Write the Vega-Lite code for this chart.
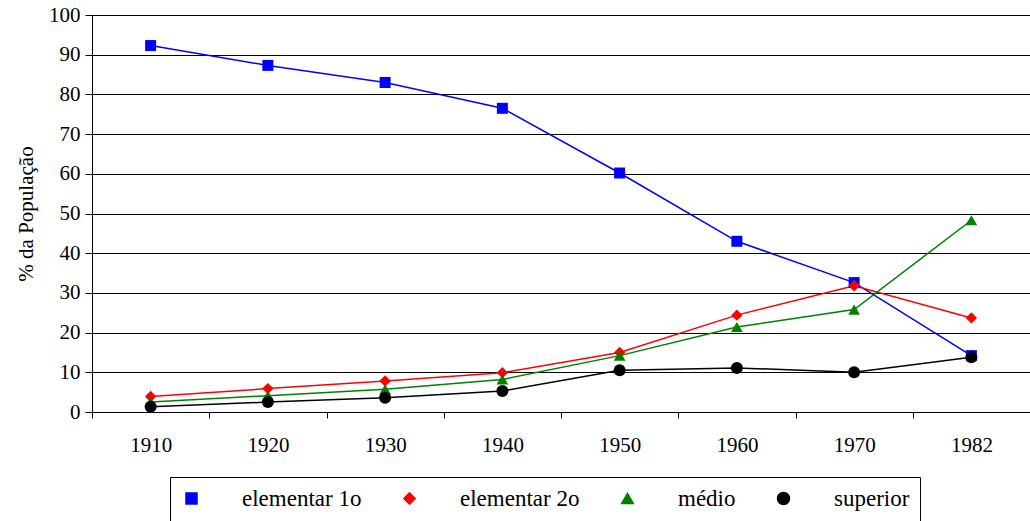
{
  "$schema": "https://vega.github.io/schema/vega-lite/v6.json",
  "width": 938,
  "height": 397,
  "autosize": {"type": "none"},
  "padding": {"left": 92, "top": 15, "right": 0, "bottom": 109},
  "background": "white",
  "config": {
    "view": {"stroke": null},
    "font": "Liberation Serif",
    "axis": {"labelFont": "Liberation Serif", "titleFont": "Liberation Serif", "labelFontSize": 21, "titleFontSize": 21, "labelColor": "black", "titleColor": "black", "domainColor": "black", "tickColor": "black", "labelOverlap": false},
    "legend": {"labelFont": "Liberation Serif", "labelFontSize": 23, "labelColor": "black"}
  },
  "data": {
    "values": [
      {"ano": "1910", "serie": "elementar 1o", "v": 92.3},
      {"ano": "1920", "serie": "elementar 1o", "v": 87.3},
      {"ano": "1930", "serie": "elementar 1o", "v": 83.0},
      {"ano": "1940", "serie": "elementar 1o", "v": 76.5},
      {"ano": "1950", "serie": "elementar 1o", "v": 60.2},
      {"ano": "1960", "serie": "elementar 1o", "v": 43.0},
      {"ano": "1970", "serie": "elementar 1o", "v": 32.6},
      {"ano": "1982", "serie": "elementar 1o", "v": 14.2},
      {"ano": "1910", "serie": "elementar 2o", "v": 3.9},
      {"ano": "1920", "serie": "elementar 2o", "v": 5.9},
      {"ano": "1930", "serie": "elementar 2o", "v": 7.8},
      {"ano": "1940", "serie": "elementar 2o", "v": 9.9},
      {"ano": "1950", "serie": "elementar 2o", "v": 15.0},
      {"ano": "1960", "serie": "elementar 2o", "v": 24.4},
      {"ano": "1970", "serie": "elementar 2o", "v": 31.8},
      {"ano": "1982", "serie": "elementar 2o", "v": 23.7},
      {"ano": "1910", "serie": "médio", "v": 2.5},
      {"ano": "1920", "serie": "médio", "v": 4.1},
      {"ano": "1930", "serie": "médio", "v": 5.7},
      {"ano": "1940", "serie": "médio", "v": 8.2},
      {"ano": "1950", "serie": "médio", "v": 14.2},
      {"ano": "1960", "serie": "médio", "v": 21.4},
      {"ano": "1970", "serie": "médio", "v": 25.8},
      {"ano": "1982", "serie": "médio", "v": 48.3},
      {"ano": "1910", "serie": "superior", "v": 1.3},
      {"ano": "1920", "serie": "superior", "v": 2.5},
      {"ano": "1930", "serie": "superior", "v": 3.6},
      {"ano": "1940", "serie": "superior", "v": 5.3},
      {"ano": "1950", "serie": "superior", "v": 10.5},
      {"ano": "1960", "serie": "superior", "v": 11.1},
      {"ano": "1970", "serie": "superior", "v": 10.0},
      {"ano": "1982", "serie": "superior", "v": 13.8}
    ]
  },
  "encoding": {
    "x": {
      "field": "ano", "type": "ordinal",
      "scale": {"type": "band", "paddingInner": 0, "paddingOuter": 0},
      "axis": {"title": null, "labelAngle": 0, "labelFontSize": 21, "labelPadding": 16, "tickBand": "extent", "tickSize": 6, "domainWidth": 1, "tickWidth": 1, "grid": false}
    },
    "y": {
      "field": "v", "type": "quantitative",
      "scale": {"domain": [0, 100], "nice": false},
      "axis": {"title": "% da População", "titleFontSize": 21, "titleFontWeight": "normal", "titlePadding": 12, "labelFontSize": 21, "labelPadding": 5, "values": [0,10,20,30,40,50,60,70,80,90,100], "labelOverlap": false, "tickSize": 7, "grid": true, "gridColor": "black", "gridOpacity": 1, "gridWidth": 1}
    }
  },
  "layer": [
    {
      "mark": {"type": "line", "strokeWidth": 1.5},
      "encoding": {
        "color": {
          "field": "serie", "type": "nominal",
          "scale": {"domain": ["elementar 1o", "elementar 2o", "médio", "superior"], "range": ["#0000FF", "#FF0000", "#008000", "#000000"]},
          "legend": {
            "title": null,
            "orient": "none",
            "legendX": 78,
            "legendY": 462,
            "direction": "horizontal",
            "columns": 4,
            "gridAlign": "none",
            "columnPadding": 36,
            "padding": 10,
            "strokeColor": "black",
            "labelFont": "Liberation Serif",
            "labelFontSize": 23,
            "labelColor": "black",
            "labelOffset": 39,
            "symbolSize": 400,
            "symbolStrokeWidth": 1.5,
            "symbolOpacity": 1
          }
        }
      }
    },
    {
      "mark": {"type": "point", "filled": true, "opacity": 1, "size": 130},
      "encoding": {
        "fill": {
          "field": "serie", "type": "nominal",
          "scale": {"domain": ["elementar 1o", "elementar 2o", "médio", "superior"], "range": ["#0000FF", "#FF0000", "#008000", "#000000"]},
          "legend": null
        },
        "shape": {
          "field": "serie", "type": "nominal",
          "scale": {"domain": ["elementar 1o", "elementar 2o", "médio", "superior"], "range": ["square", "diamond", "triangle-up", "circle"]},
          "legend": null
        },
        "size": {
          "field": "serie", "type": "nominal",
          "scale": {"domain": ["elementar 1o", "elementar 2o", "médio", "superior"], "range": [121, 144, 130, 144]},
          "legend": null
        }
      }
    }
  ]
}
